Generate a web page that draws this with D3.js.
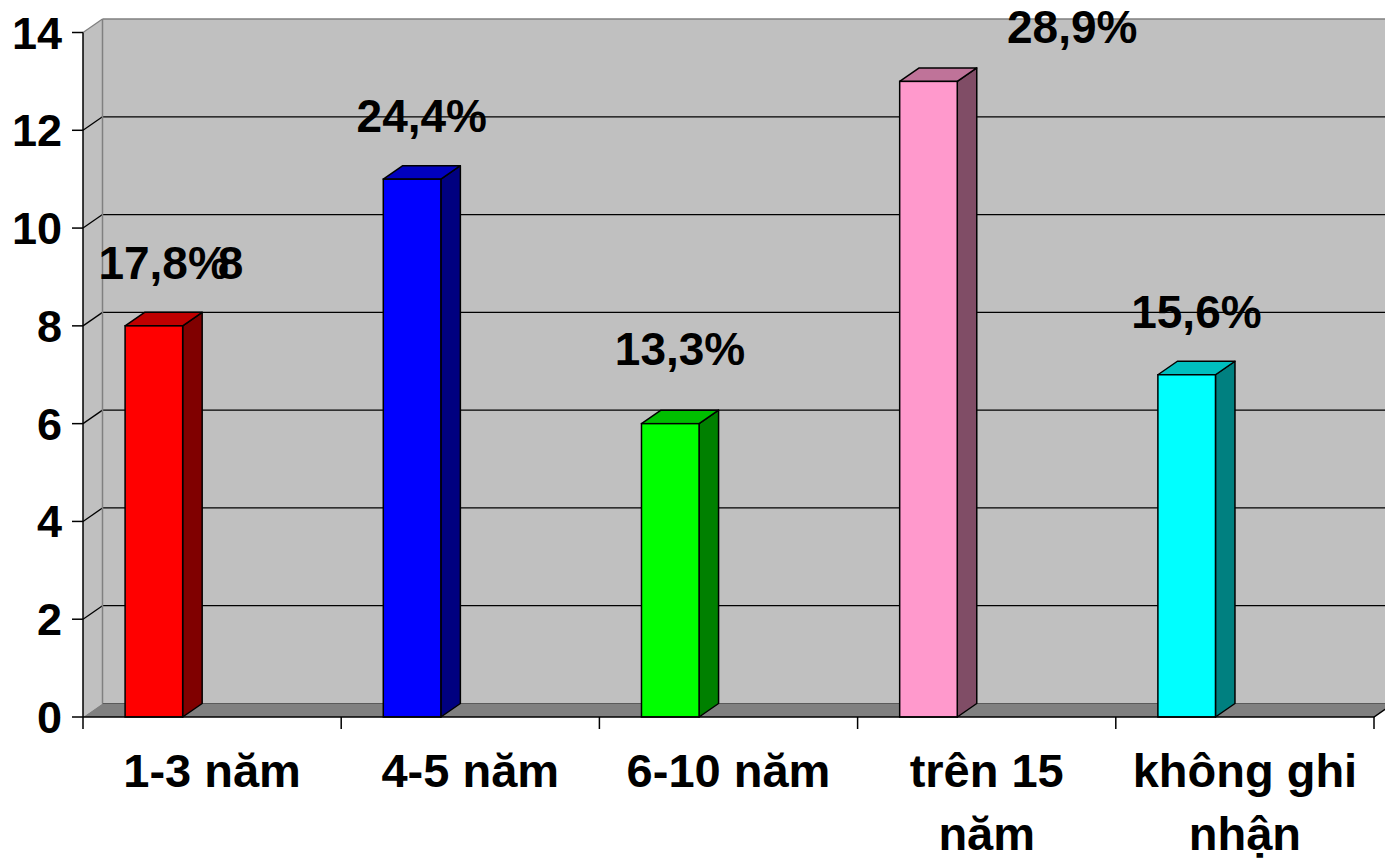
<!DOCTYPE html>
<html>
<head>
<meta charset="utf-8">
<script src="https://cdn.jsdelivr.net/npm/d3@7"></script>
<style>
  html, body { margin: 0; padding: 0; background: #ffffff; }
  svg { display: block; }
  text { font-family: "Liberation Sans", Arial, sans-serif; font-weight: bold; fill: #000; }
</style>
</head>
<body>
<svg id="chart" width="1385" height="862"></svg>
<script>
// Years of work experience: counts per group, with their share of the total
const categories = [["1-3 năm"], ["4-5 năm"], ["6-10 năm"], ["trên 15", "năm"], ["không ghi", "nhận"]];
const values = [8, 11, 6, 13, 7];
const percentLabels = ["17,8%", "24,4%", "13,3%", "28,9%", "15,6%"];
const yTicks = [0, 2, 4, 6, 8, 10, 12, 14];
const faceColors = ["#ff0000", "#0000ff", "#00ff00", "#ff99cc", "#00ffff"];

// Label placement tweaks (moved by hand in the original workbook)
const labelNudge = [
  { dx: 0, dy: 0 },
  { dx: 0, dy: 0 },
  { dx: 0, dy: -12 },
  { dx: 134, dy: 9 },
  { dx: 0, dy: 0 }
];

const svg = d3.select("#chart");
const W = 1385, H = 862;

// 3D depth offset of the plot box
const DX = 19.5, DY = -13.5;

const x = d3.scaleBand()
  .domain(d3.range(categories.length))
  .range([83, 1374])
  .paddingInner(0).paddingOuter(0);

const y = d3.scaleLinear().domain([0, 14]).range([717, 32.5]);

const bw = x.bandwidth();
const barOffset = bw * 0.163;
const barWidth = bw * 0.223;

const shade = (c, k) => {
  const r = d3.rgb(c);
  return d3.rgb(r.r * k, r.g * k, r.b * k).formatHex();
};

const x0 = x.range()[0], x1 = x.range()[1];
const yTop = y(14), yBase = y(0);

const g = svg.append("g");

// Back wall
g.append("rect")
  .attr("x", x0 + DX).attr("y", yTop + DY)
  .attr("width", W - (x0 + DX) + 10).attr("height", yBase - yTop)
  .attr("fill", "#c0c0c0");

// Side wall
g.append("path")
  .attr("d", `M${x0},${yTop} L${x0 + DX},${yTop + DY} L${x0 + DX},${yBase + DY} L${x0},${yBase} Z`)
  .attr("fill", "#c0c0c0");

// Gridlines: across the back wall and diagonally across the side wall
yTicks.forEach(t => {
  if (t === 0) return;
  const yy = y(t);
  if (t < 14) {
    g.append("line")
      .attr("x1", x0 + DX).attr("x2", W + 5)
      .attr("y1", yy + DY).attr("y2", yy + DY)
      .attr("stroke", "#000").attr("stroke-width", 1.3);
  }
  g.append("line")
    .attr("x1", x0).attr("y1", yy)
    .attr("x2", x0 + DX).attr("y2", yy + DY)
    .attr("stroke", t === 14 ? "#808080" : "#000").attr("stroke-width", 1.3);
});

// Wall edges
g.append("line")
  .attr("x1", x0 + DX).attr("x2", W + 5)
  .attr("y1", yTop + DY).attr("y2", yTop + DY)
  .attr("stroke", "#808080").attr("stroke-width", 1.5);
g.append("line")
  .attr("x1", x0 + DX).attr("x2", x0 + DX)
  .attr("y1", yTop + DY).attr("y2", yBase + DY)
  .attr("stroke", "#808080").attr("stroke-width", 1.5);

// Floor
g.append("path")
  .attr("d", `M${x0},${yBase} L${x1},${yBase} L${x1 + DX},${yBase + DY} L${x0 + DX},${yBase + DY} Z`)
  .attr("fill", "#808080");
g.append("line")
  .attr("x1", x0 + DX).attr("x2", x1 + DX)
  .attr("y1", yBase + DY).attr("y2", yBase + DY)
  .attr("stroke", "#5a5a5a").attr("stroke-width", 1.2);

// Bars: front, side and top faces
const bars = g.selectAll("g.bar").data(values).join("g").attr("class", "bar");
bars.each(function (v, i) {
  const b = d3.select(this);
  const bx = x(i) + barOffset;
  const by = y(v);
  const bh = yBase - by;
  const c = faceColors[i];
  // side face
  b.append("path")
    .attr("d", `M${bx + barWidth},${by} L${bx + barWidth + DX},${by + DY} L${bx + barWidth + DX},${yBase + DY} L${bx + barWidth},${yBase} Z`)
    .attr("fill", shade(c, 0.5)).attr("stroke", "#000").attr("stroke-width", 1.5)
    .attr("stroke-linejoin", "round");
  // top face
  b.append("path")
    .attr("d", `M${bx},${by} L${bx + DX},${by + DY} L${bx + barWidth + DX},${by + DY} L${bx + barWidth},${by} Z`)
    .attr("fill", shade(c, 0.75)).attr("stroke", "#000").attr("stroke-width", 1.5)
    .attr("stroke-linejoin", "round");
  // front face
  b.append("rect")
    .attr("x", bx).attr("y", by)
    .attr("width", barWidth).attr("height", bh)
    .attr("fill", c).attr("stroke", "#000").attr("stroke-width", 1.5);
});

// Category axis (front floor edge) with ticks
g.append("path")
  .attr("d", `M${x0},${yBase} L${x1},${yBase} L${x1 + DX},${yBase + DY}`)
  .attr("fill", "none").attr("stroke", "#000").attr("stroke-width", 1.5);
const edges = d3.range(categories.length + 1).map(i => i < categories.length ? x(i) : x1);
g.selectAll("line.ctick").data(edges).join("line")
  .attr("class", "ctick")
  .attr("x1", d => d).attr("x2", d => d)
  .attr("y1", yBase).attr("y2", yBase + 12)
  .attr("stroke", "#000").attr("stroke-width", 1.5);

// Value axis
g.append("line")
  .attr("x1", x0).attr("x2", x0)
  .attr("y1", yTop).attr("y2", yBase)
  .attr("stroke", "#000").attr("stroke-width", 1.5);
g.selectAll("line.ytick").data(yTicks).join("line")
  .attr("class", "ytick")
  .attr("x1", x0 - 11).attr("x2", x0)
  .attr("y1", d => y(d)).attr("y2", d => y(d))
  .attr("stroke", "#000").attr("stroke-width", 1.5);
g.selectAll("text.ylab").data(yTicks).join("text")
  .attr("class", "ylab")
  .attr("x", 62).attr("y", d => y(d) + 16)
  .attr("text-anchor", "end")
  .attr("font-size", 45)
  .text(d => d);

// Category labels
categories.forEach((lines, i) => {
  const t = g.append("text")
    .attr("x", x(i) + bw / 2)
    .attr("y", 787)
    .attr("text-anchor", "middle")
    .attr("font-size", 47);
  lines.forEach((ln, k) => {
    t.append("tspan")
      .attr("x", x(i) + bw / 2)
      .attr("dy", k === 0 ? 0 : 63)
      .text(ln);
  });
});

// Percentage labels above bars
g.selectAll("text.pct").data(values).join("text")
  .attr("class", "pct")
  .attr("x", (v, i) => x(i) + barOffset + barWidth / 2 + DX / 2 + labelNudge[i].dx)
  .attr("y", (v, i) => y(v) - 47 + labelNudge[i].dy)
  .attr("text-anchor", "middle")
  .attr("font-size", 46)
  .text((v, i) => percentLabels[i]);

// Stray value label on the first bar
g.append("text")
  .attr("x", x(0) + barOffset + barWidth / 2 + DX / 2 + 67)
  .attr("y", y(values[0]) - 47)
  .attr("text-anchor", "middle")
  .attr("font-size", 46)
  .text(values[0]);
</script>
</body>
</html>
